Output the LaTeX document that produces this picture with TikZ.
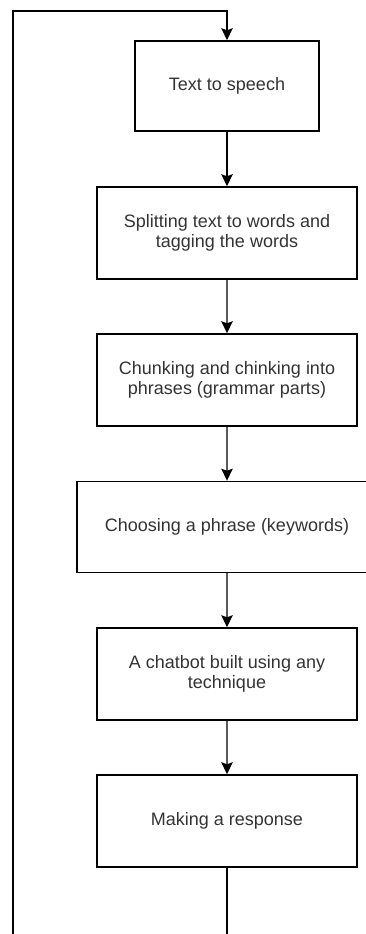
\documentclass[tikz,border=0pt]{standalone}
\usepackage{fontspec}
\setmainfont{Liberation Sans}
\usepackage{tikz}
\usetikzlibrary{arrows.meta}
\definecolor{txtgray}{HTML}{333333}
\tikzset{
	procbox/.style  = {shape=rectangle, draw, line width=1.1pt,
		align=center, text=txtgray, inner sep=0pt,
		font=\fontsize{13.5pt}{15.5pt}\selectfont,
		minimum width=195pt, minimum height=69pt},
	startbox/.style = {procbox, minimum width=138pt, minimum height=67.5pt},
	widebox/.style  = {procbox, minimum width=225pt, minimum height=68.25pt},
	loopline/.style = {draw, line width=1.1pt, -{Stealth[length=9pt,width=8.5pt,inset=1.5pt]}}
}

\begin{document}
\begin{tikzpicture}
	[
	x                       = 0.75pt,
	y                       = 0.75pt,
	grow                    = down,
	level distance          = 110.25pt,
	edge from parent/.style = {draw, line width=1.1pt, -{Stealth[length=9pt,width=8.5pt,inset=1.5pt]}}
	]
	\useasboundingbox (0,0) rectangle (366,-934);
	\node [startbox] (tts) at (227,-86) {Text to speech}
	child { node [procbox] (split) {Splitting text to words and\\tagging the words}
		child { node [procbox] (chunk) {Chunking and chinking into\\phrases (grammar parts)}
			child { node [widebox] (choose) {Choosing a phrase (keywords)}
				child { node [procbox] (chatbot) {A chatbot built using any\\technique}
					child { node [procbox] (resp) {Making a response} } } } } };
	% back to the start
	\coordinate (loopbot) at (13,-960);
	\coordinate (looptop) at (13,-11);
	\draw [loopline] (resp.south) |- (loopbot) -- (looptop) -| (tts.north);
\end{tikzpicture}
\end{document}
